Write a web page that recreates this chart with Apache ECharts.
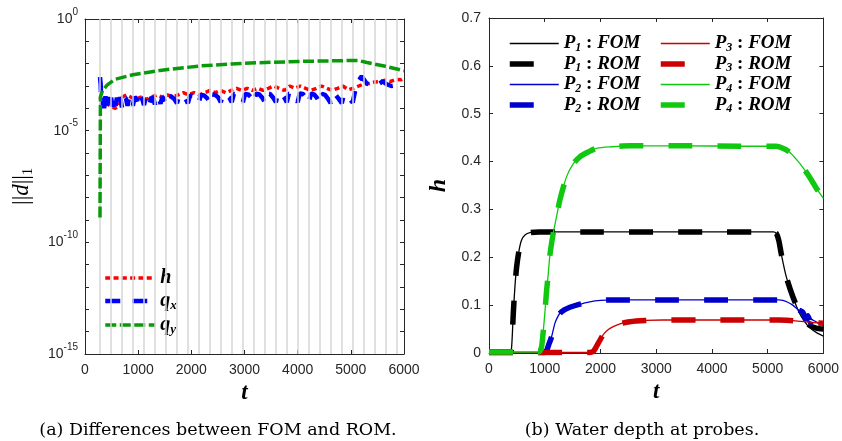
<!DOCTYPE html>
<html><head><meta charset="utf-8">
<script src="https://cdn.jsdelivr.net/npm/echarts@6/dist/echarts.min.js"></script>
<style>html,body{margin:0;padding:0;background:#fff}#c{width:842px;height:441px}</style>
</head><body><div id="c"></div>
<script>
// ---------- (a) Differences between FOM and ROM ----------
const gridTimes = [282, 490, 695, 900, 1110, 1315, 1520, 1730, 1935, 2140, 2350, 2555, 2760, 2970, 3175, 3380, 3590, 3795, 4000, 4210, 4415, 4620, 4830, 5035, 5240, 5450, 5655, 5860];
const diffH = [[282,3.2e-4],[330,2.0e-4],[400,1.6e-4],[480,1.3e-4],[560,1.0e-4],[640,1.26e-4],[700,3.2e-4],[780,4.0e-4],[860,3.2e-4],[950,2.5e-4],[1050,3.2e-4],[1150,2.5e-4],[1250,3.2e-4],[1350,4.0e-4],[1450,3.2e-4],[1550,4.0e-4],[1650,3.2e-4],[1750,4.0e-4],[1850,5.0e-4],[1950,4.0e-4],[2050,5.0e-4],[2150,4.0e-4],[2250,5.0e-4],[2350,6.3e-4],[2450,5.0e-4],[2550,6.3e-4],[2650,5.0e-4],[2750,6.3e-4],[2850,7.9e-4],[2950,6.3e-4],[3050,7.9e-4],[3150,6.3e-4],[3250,7.9e-4],[3350,6.3e-4],[3450,7.9e-4],[3550,1.0e-3],[3650,7.9e-4],[3750,6.3e-4],[3850,1.0e-3],[3950,7.9e-4],[4050,1.0e-3],[4150,7.9e-4],[4250,6.3e-4],[4350,7.9e-4],[4450,1.0e-3],[4550,7.9e-4],[4650,6.3e-4],[4750,7.9e-4],[4850,1.0e-3],[4950,6.8e-4],[5050,7.9e-4],[5150,1.0e-3],[5250,1.26e-3],[5350,1.3e-3],[5450,1.5e-3],[5550,1.6e-3],[5650,1.8e-3],[5750,1.6e-3],[5850,2.0e-3],[5950,1.9e-3],[6000,2.2e-3]];
const diffQx = [[282,2.5e-3],[295,1.2e-3],[310,1.0e-4],[335,3.5e-4],[360,1.0e-4],[385,3.5e-4],[410,1.1e-4],[440,3.2e-4],[465,1.0e-4],[490,3.0e-4],[520,1.2e-4],[545,3.2e-4],[575,1.3e-4],[600,3.0e-4],[630,1.2e-4],[660,3.2e-4],[695,1.1e-4],[730,3.2e-4],[770,2.8e-4],[800,1.3e-4],[830,3.2e-4],[870,2.8e-4],[900,1.3e-4],[935,3.2e-4],[975,2.5e-4],[1010,1.4e-4],[1045,3.2e-4],[1080,2.5e-4],[1110,1.4e-4],[1145,3.2e-4],[1185,2.5e-4],[1215,1.5e-4],[1250,3.2e-4],[1290,2.5e-4],[1315,1.5e-4],[1350,3.2e-4],[1390,2.8e-4],[1420,1.6e-4],[1455,3.2e-4],[1490,2.5e-4],[1520,1.6e-4],
  [1560,3.6e-4],[1620,3.4e-4],[1680,2.6e-4],[1730,1.7e-4],[1770,3.8e-4],[1830,3.6e-4],[1890,2.7e-4],[1935,1.7e-4],[1975,3.8e-4],[2035,3.6e-4],[2095,2.7e-4],[2140,1.8e-4],[2180,4.0e-4],[2240,3.8e-4],[2300,2.8e-4],[2350,1.8e-4],[2390,4.2e-4],[2450,4.0e-4],[2510,3.0e-4],[2555,1.9e-4],[2595,4.2e-4],[2655,4.0e-4],[2715,3.0e-4],[2760,1.9e-4],[2800,4.4e-4],[2860,4.2e-4],[2920,3.0e-4],[2970,1.9e-4],[3010,4.4e-4],[3070,4.2e-4],[3130,3.0e-4],[3175,1.9e-4],[3215,4.5e-4],[3275,4.3e-4],[3335,3.0e-4],[3380,1.9e-4],[3420,4.6e-4],[3480,4.4e-4],[3540,3.0e-4],[3590,1.9e-4],[3630,4.6e-4],[3690,4.4e-4],[3750,3.0e-4],[3795,1.9e-4],[3835,4.6e-4],[3895,4.4e-4],[3955,3.0e-4],[4000,1.9e-4],[4040,4.6e-4],[4100,4.4e-4],[4160,3.0e-4],[4210,1.8e-4],[4250,4.5e-4],[4310,4.2e-4],[4370,2.8e-4],[4415,1.8e-4],[4455,4.4e-4],[4515,4.0e-4],[4575,2.6e-4],[4620,1.7e-4],[4660,4.2e-4],[4720,3.8e-4],[4780,2.5e-4],[4830,1.7e-4],[4870,4.0e-4],[4930,3.6e-4],[4990,2.4e-4],[5035,1.8e-4],
  [5110,1.3e-3],[5204,2.7e-3],[5298,1.3e-3],[5380,1.1e-3],[5450,1.0e-3],[5520,1.2e-3],[5600,1.6e-3],[5675,1.2e-3],[5760,1.0e-3],[5860,1.1e-3],[5930,1.0e-3],[6000,9.5e-4]];
const diffQy = [[282,1.3e-9],[290,3.2e-4],[330,6.3e-4],[414,1.1e-3],[564,2.0e-3],[903,3.2e-3],[1411,5.0e-3],[2163,7.9e-3],[3009,1.05e-2],[4044,1.26e-2],[5135,1.4e-2],[5304,1.12e-2],[5650,7.6e-3],[6000,4.8e-3]];

// ---------- (b) Water depth at probes ----------
const p1Fom = [[0,0.002],[380,0.002],[406,0.013],[436,0.083],[466,0.14],[496,0.18],[540,0.215],[585,0.236],[650,0.247],[734,0.2515],[900,0.253],[2000,0.253],[4000,0.253],[5100,0.253],[5153,0.25],[5200,0.235],[5242,0.208],[5332,0.16],[5450,0.118],[5570,0.083],[5660,0.066],[5750,0.053],[5870,0.043],[6000,0.035]];
const p1Rom = [[0,0.002],[380,0.002],[406,0.013],[436,0.083],[466,0.14],[496,0.18],[540,0.215],[585,0.236],[650,0.247],[734,0.2515],[900,0.253],[2000,0.253],[4000,0.253],[5100,0.253],[5153,0.25],[5200,0.235],[5242,0.208],[5332,0.16],[5450,0.118],[5570,0.085],[5660,0.068],[5750,0.058],[5870,0.052],[6000,0.05]];
const p2Fom = [[0,0.001],[1000,0.001],[1033,0.005],[1080,0.02],[1123,0.034],[1182,0.062],[1230,0.075],[1272,0.083],[1350,0.09],[1451,0.0955],[1600,0.101],[1809,0.107],[2000,0.11],[2227,0.111],[3000,0.111],[4000,0.111],[5200,0.111],[5272,0.11],[5360,0.106],[5450,0.1],[5540,0.091],[5630,0.083],[5720,0.075],[5810,0.069],[5900,0.063],[6000,0.058]];
const p2Rom = [[0,0.001],[1000,0.001],[1033,0.005],[1080,0.02],[1123,0.034],[1182,0.062],[1230,0.075],[1272,0.083],[1350,0.09],[1451,0.0955],[1600,0.101],[1809,0.107],[2000,0.11],[2227,0.111],[3000,0.111],[4000,0.111],[5200,0.111],[5272,0.11],[5360,0.106],[5450,0.1],[5540,0.091],[5630,0.085],[5680,0.072],[5720,0.078],[5770,0.063],[5820,0.072],[5870,0.059],[5920,0.066],[6000,0.058]];
const p3Fom = [[0,0.001],[1800,0.001],[1869,0.003],[1910,0.01],[1958,0.02],[2048,0.038],[2130,0.048],[2227,0.055],[2350,0.061],[2526,0.0655],[2800,0.068],[3122,0.069],[4000,0.069],[5200,0.069],[5400,0.068],[5600,0.066],[5800,0.064],[6000,0.062]];
const p3Rom = [[0,0.001],[1800,0.001],[1869,0.003],[1910,0.01],[1958,0.02],[2048,0.038],[2130,0.048],[2227,0.055],[2350,0.061],[2526,0.0655],[2800,0.068],[3122,0.069],[4000,0.069],[5200,0.069],[5400,0.068],[5600,0.066],[5800,0.064],[6000,0.062]];
const p4Fom = [[0,0.002],[880,0.002],[913,0.004],[944,0.013],[973,0.045],[1003,0.085],[1033,0.13],[1063,0.165],[1093,0.205],[1152,0.25],[1212,0.285],[1272,0.32],[1391,0.368],[1510,0.395],[1630,0.41],[1780,0.42],[1928,0.4277],[2200,0.431],[2526,0.433],[3500,0.433],[4500,0.432],[5150,0.432],[5272,0.428],[5390,0.42],[5511,0.405],[5630,0.388],[5750,0.368],[5870,0.345],[6000,0.323]];
const p4Rom = [[0,0.002],[880,0.002],[913,0.004],[944,0.013],[973,0.045],[1003,0.085],[1033,0.13],[1063,0.165],[1093,0.205],[1152,0.25],[1212,0.285],[1272,0.32],[1391,0.368],[1510,0.395],[1630,0.41],[1780,0.42],[1928,0.4277],[2200,0.431],[2526,0.433],[3500,0.433],[4500,0.432],[5150,0.432],[5272,0.428],[5390,0.42],[5511,0.405],[5630,0.388],[5750,0.368],[5870,0.345],[6000,0.323]];

const AX = '#262626';
const tickFont = {fontFamily:'Liberation Sans', fontSize:14, color:AX};
const serifBI = {fontFamily:'Liberation Serif', fontStyle:'italic', fontWeight:'bold'};

function boxX(gridIndex, pos, show, extra) {
  return Object.assign({
    type:'value', gridIndex, position:pos, min:0, max:6000, interval:1000,
    axisLine:{show:true, onZero:false, lineStyle:{color:AX, width:1}},
    axisTick:{show:true, inside:true, length:4, lineStyle:{color:AX}},
    axisLabel:{show, margin:9, ...tickFont, formatter:(v)=>String(v)},
    splitLine:{show:false}
  }, extra || {});
}

const chart = echarts.init(document.getElementById('c'), null, {renderer:'canvas'});

const supRich = {
  b:{fontFamily:'Liberation Sans', fontSize:14, color:AX, lineHeight:24},
  e:{fontFamily:'Liberation Sans', fontSize:10, color:AX, lineHeight:12, verticalAlign:'top'}
};
function logAxis(gridIndex, pos, show) {
  return {
    type:'log', logBase:10, gridIndex, position:pos, min:1e-15, max:1, interval:1,
    axisLine:{show:true, onZero:false, lineStyle:{color:AX, width:1}},
    axisTick:{show:true, inside:true, length:4, lineStyle:{color:AX}},
    axisLabel:{show, margin:7, rich:supRich, formatter:(v)=>{
      const e = Math.round(Math.log10(v));
      return (e % 5 === 0) ? '{b|10}{e|' + e + '}' : '';
    }},
    splitLine:{show:false}
  };
}
function linY(gridIndex, pos, show, extra) {
  return Object.assign({
    type:'value', gridIndex, position:pos, min:0, max:0.7, interval:0.1,
    axisLine:{show:true, onZero:false, lineStyle:{color:AX, width:1}},
    axisTick:{show:true, inside:true, length:4, lineStyle:{color:AX}},
    axisLabel:{show, margin:8, ...tickFont, formatter:(v)=> v===0 ? '0' : v.toFixed(1)},
    splitLine:{show:false}
  }, extra || {});
}

const legRich = {
  i:{...serifBI, fontSize:19, color:'#000', lineHeight:20},
  s:{...serifBI, fontSize:12, color:'#000', lineHeight:12, verticalAlign:'bottom'},
  c:{fontFamily:'Liberation Serif', fontWeight:'bold', fontSize:19, color:'#000', lineHeight:20}
};
const legRichL = {
  i:{...serifBI, fontSize:20, color:'#000', lineHeight:22},
  s:{...serifBI, fontSize:13, color:'#000', lineHeight:12, verticalAlign:'bottom'}
};
function pFmt(name) {
  const idx = name.charAt(1);
  const rest = name.slice(5);
  return '{i|P}{s|' + idx + '}{c| : }{i|' + rest + '}';
}
function qFmt(name) {
  if (name === 'h') return '{i|h}';
  return '{i|q}{s|' + name.charAt(2) + '}';
}
const legLine = {width:'inherit', type:'inherit', cap:'butt'};

const option = {
  animation:false,
  backgroundColor:'#fff',
  title:[
    {text:'(a) Differences between FOM and ROM.', left:213, top:416, textAlign:'center',
     textStyle:{fontFamily:'DejaVu Serif', fontWeight:'normal', fontSize:17.5, color:'#000'}},
    {text:'(b) Water depth at probes.', left:637, top:416, textAlign:'center',
     textStyle:{fontFamily:'DejaVu Serif', fontWeight:'normal', fontSize:17.5, color:'#000'}}
  ],
  grid:[
    {left:85, right:438, top:19, bottom:87},
    {left:489, right:18, top:18, bottom:88}
  ],
  xAxis:[
    boxX(0,'bottom',true,{name:'t', nameLocation:'middle', nameGap:26,
      nameTextStyle:{...serifBI, fontSize:23, color:'#000'}}),
    boxX(0,'top',false),
    boxX(1,'bottom',true,{name:'t', nameLocation:'middle', nameGap:26,
      nameTextStyle:{...serifBI, fontSize:23, color:'#000'}}),
    boxX(1,'top',false)
  ],
  yAxis:[
    Object.assign(logAxis(0,'left',true), {name:'{n|||}{d|d}{n|||}{s|1}', nameLocation:'middle', nameGap:50,
      nameTextStyle:{rich:{
        n:{fontFamily:'Liberation Serif', fontSize:23, color:'#000', lineHeight:26},
        d:{fontFamily:'Liberation Serif', fontStyle:'italic', fontSize:23, color:'#000', lineHeight:26},
        s:{fontFamily:'Liberation Serif', fontSize:14, color:'#000', lineHeight:13, verticalAlign:'bottom'}
      }}}),
    logAxis(0,'right',false),
    linY(1,'left',true,{name:'h', nameLocation:'middle', nameGap:38,
      nameTextStyle:{...serifBI, fontSize:24, color:'#000'}}),
    linY(1,'right',false)
  ],
  legend:[
    {left:103, top:268, padding:0, orient:'vertical', itemWidth:50, itemHeight:10, itemGap:3,
     itemStyle:{opacity:0}, lineStyle:legLine,
     data:['h','q_x','q_y'], formatter:qFmt, textStyle:{rich:legRichL}, selectedMode:false},
    {left:507, top:34, padding:0, orient:'vertical', itemWidth:49, itemHeight:10, itemGap:1,
     itemStyle:{opacity:0}, lineStyle:legLine,
     data:['P1 : FOM','P1 : ROM','P2 : FOM','P2 : ROM'], formatter:pFmt, textStyle:{rich:legRich}, selectedMode:false},
    {left:658, top:34, padding:0, orient:'vertical', itemWidth:49, itemHeight:10, itemGap:1,
     itemStyle:{opacity:0}, lineStyle:legLine,
     data:['P3 : FOM','P3 : ROM','P4 : FOM','P4 : ROM'], formatter:pFmt, textStyle:{rich:legRich}, selectedMode:false}
  ],
  series:[
    {type:'line', name:'gridlines', xAxisIndex:0, yAxisIndex:0, data:[], z:1, silent:true,
     markLine:{silent:true, symbol:['none','none'], label:{show:false},
       lineStyle:{color:'#d6d6d6', width:1.5, type:'solid'},
       data: gridTimes.map(t=>({xAxis:t}))}},
    {type:'line', name:'h', xAxisIndex:0, yAxisIndex:0, data:diffH, symbol:'none', z:3,
     lineStyle:{color:'#ff0000', width:3.5, type:[5,3.3], cap:'butt'}, itemStyle:{color:'#ff0000'}},
    {type:'line', name:'q_x', xAxisIndex:0, yAxisIndex:0, data:diffQx, symbol:'none', z:4,
     lineStyle:{color:'#0000ff', width:4.5, type:[15,12], cap:'butt'}, itemStyle:{color:'#0000ff'}},
    {type:'line', name:'q_y', xAxisIndex:0, yAxisIndex:0, data:diffQy, symbol:'none', z:5,
     lineStyle:{color:'#0a990a', width:3.5, type:[11,3.5], cap:'butt'}, itemStyle:{color:'#0a990a'}},

    {type:'line', name:'P1 : FOM', xAxisIndex:2, yAxisIndex:2, data:p1Fom, symbol:'none', smooth:0.25, z:3,
     lineStyle:{color:'#000000', width:1.3}, itemStyle:{color:'#000000'}},
    {type:'line', name:'P1 : ROM', xAxisIndex:2, yAxisIndex:2, data:p1Rom, symbol:'none', smooth:0.25, z:3,
     lineStyle:{color:'#000000', width:5.5, type:[24,25], cap:'butt'}, itemStyle:{color:'#000000'}},
    {type:'line', name:'P2 : FOM', xAxisIndex:2, yAxisIndex:2, data:p2Fom, symbol:'none', smooth:0.25, z:3,
     lineStyle:{color:'#0000cc', width:1.3}, itemStyle:{color:'#0000cc'}},
    {type:'line', name:'P2 : ROM', xAxisIndex:2, yAxisIndex:2, data:p2Rom, symbol:'none', smooth:0.25, z:3,
     lineStyle:{color:'#0000cc', width:5.5, type:[24,25], cap:'butt'}, itemStyle:{color:'#0000cc'}},
    {type:'line', name:'P3 : FOM', xAxisIndex:2, yAxisIndex:2, data:p3Fom, symbol:'none', smooth:0.25, z:3,
     lineStyle:{color:'#cc0000', width:1.3}, itemStyle:{color:'#cc0000'}},
    {type:'line', name:'P3 : ROM', xAxisIndex:2, yAxisIndex:2, data:p3Rom, symbol:'none', smooth:0.25, z:3,
     lineStyle:{color:'#cc0000', width:5.5, type:[24,25], cap:'butt'}, itemStyle:{color:'#cc0000'}},
    {type:'line', name:'P4 : FOM', xAxisIndex:2, yAxisIndex:2, data:p4Fom, symbol:'none', smooth:0.25, z:3,
     lineStyle:{color:'#11c811', width:1.3}, itemStyle:{color:'#11c811'}},
    {type:'line', name:'P4 : ROM', xAxisIndex:2, yAxisIndex:2, data:p4Rom, symbol:'none', smooth:0.25, z:3,
     lineStyle:{color:'#11c811', width:5.5, type:[24,25], cap:'butt'}, itemStyle:{color:'#11c811'}}
  ]
};
chart.setOption(option);
</script>
</body></html>
